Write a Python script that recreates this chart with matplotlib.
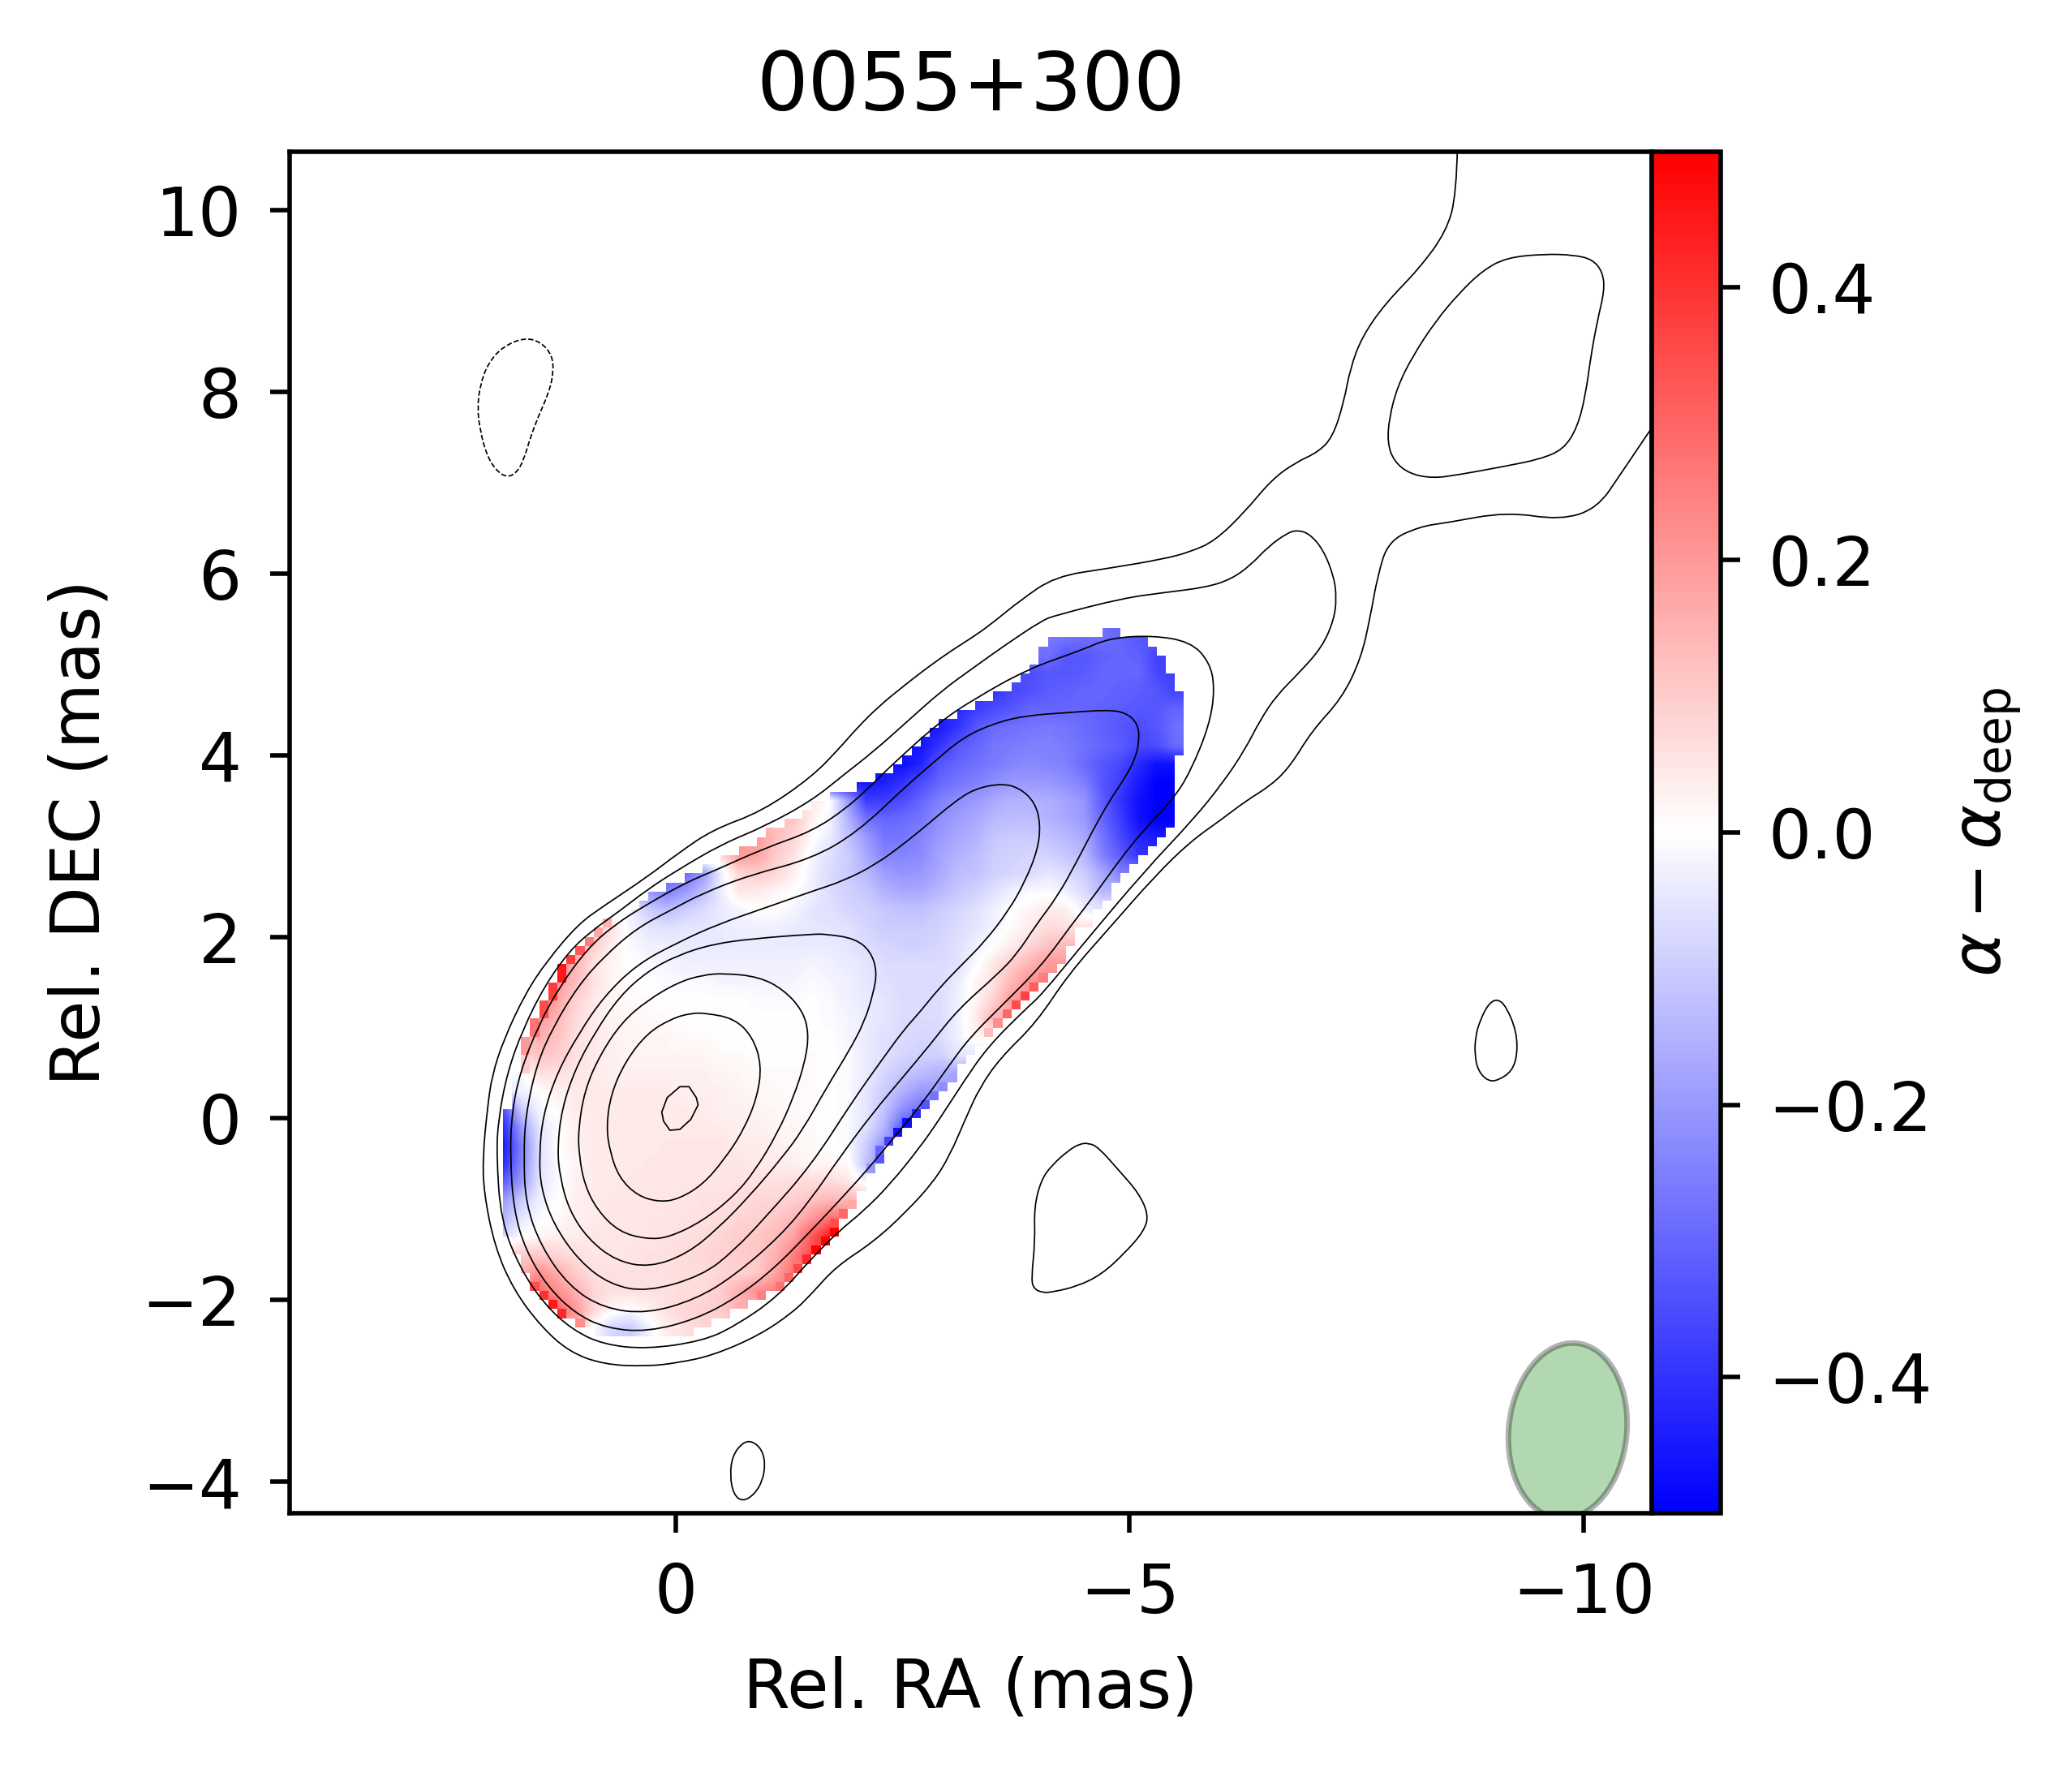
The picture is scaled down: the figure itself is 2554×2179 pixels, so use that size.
import numpy as np
import matplotlib
matplotlib.use("Agg")
import matplotlib.pyplot as plt
from matplotlib.patches import Ellipse, PathPatch
from matplotlib.path import Path

# spectral index map: mask edges per 0.1 mas row, from dec 5.4 downwards (RA in mas)
ROW_LEFT = [-4.7, -4.1, -4.0, -4.0, -3.9, -3.8, -3.7, -3.5, -3.3, -3.1, -2.9, -2.8, -2.7, -2.6, -2.5, -2.4,
            -2.2, -2.0, -1.7, -1.5, -1.4, -1.2, -1.0, -0.9, -0.7, -0.5, -0.3, -0.1, 0.1, 0.3, 0.4, 0.5,
            0.8, 0.9, 1.0, 1.1, 1.2, 1.3, 1.3, 1.4, 1.4, 1.5, 1.5, 1.6, 1.6, 1.7, 1.7, 1.7, 1.7, 1.8,
            1.8, 1.8, 1.8, 1.9, 1.9, 1.9, 1.9, 1.9, 1.9, 1.9, 1.9, 1.9, 1.9, 1.9, 1.9, 1.9, 1.9, 1.8,
            1.8, 1.7, 1.7, 1.6, 1.6, 1.5, 1.4, 1.3, 1.1, 0.9]
ROW_RIGHT = [-4.9, -5.2, -5.3, -5.4, -5.4, -5.5, -5.5, -5.6, -5.6, -5.6, -5.6, -5.6, -5.6, -5.6, -5.5, -5.5,
             -5.5, -5.5, -5.5, -5.5, -5.5, -5.5, -5.4, -5.3, -5.2, -5.1, -5.0, -4.9, -4.8, -4.8, -4.7, -4.6,
             -4.6, -4.4, -4.4, -4.3, -4.3, -4.2, -4.1, -4.0, -3.9, -3.8, -3.7, -3.6, -3.5, -3.4, -3.3, -3.2,
             -3.1, -3.1, -3.0, -2.9, -2.8, -2.7, -2.6, -2.5, -2.4, -2.3, -2.3, -2.2, -2.1, -2.1, -2.0, -2.0,
             -1.9, -1.8, -1.8, -1.7, -1.6, -1.5, -1.4, -1.3, -1.2, -1.0, -0.8, -0.6, -0.4, -0.2]

# values x100 in 0.2 mas cells; VALUE_START is the RA of the first cell centre of each row
VALUE_START = [-4.1, -4.1, -3.9, -3.5, -3.1, -2.9, -2.7, -2.5, -2.1, -1.5, -1.3, -0.9, -0.5, -0.1, 0.3, 0.5,
               0.9, 1.1, 1.3, 1.3, 1.5, 1.5, 1.7, 1.7, 1.7, 1.7, 1.9, 1.9, 1.9, 1.9, 1.9, 1.9,
               1.9, 1.9, 1.7, 1.7, 1.5, 1.3, 1.1]
VALUES = [
    [-26, -27, -28, -28, -30, -33],
    [-28, -33, -33, -31, -30, -31, -37],
    [-35, -33, -33, -32, -30, -30, -30, -36, -38],
    [-40, -36, -34, -32, -31, -30, -30, -31, -32, -33, -37],
    [-42, -38, -35, -33, -30, -30, -30, -30, -31, -32, -33, -33, -30],
    [-45, -40, -33, -29, -28, -27, -26, -27, -29, -31, -33, -35, -33, -28],
    [-46, -40, -33, -30, -27, -26, -25, -25, -26, -28, -30, -32, -36, -35, -29],
    [-47, -43, -33, -30, -28, -26, -24, -23, -24, -25, -29, -33, -36, -42, -47, -47],
    [-46, -44, -40, -35, -30, -27, -25, -22, -20, -20, -20, -22, -25, -33, -38, -45, -50, -50],
    [5, 0, -20, -38, -38, -35, -30, -25, -22, -20, -17, -15, -15, -16, -18, -21, -32, -40, -47, -50, -50],
    [12, 3, -2, -15, -28, -30, -29, -27, -22, -19, -17, -14, -13, -13, -15, -17, -20, -30, -38, -47, -50, -50],
    [20, 13, 8, 1, -4, -12, -20, -27, -27, -24, -20, -17, -15, -11, -10, -10, -12, -14, -17, -27, -36, -43, -45],
    [7, 20, 18, 10, 6, -2, -6, -10, -17, -24, -24, -23, -18, -15, -13, -10, -9, -8, -9, -11, -14, -25, -32, -40],
    [-30, -20, -3, 8, 10, 8, 3, -3, -7, -10, -14, -19, -21, -20, -17, -13, -12, -9, -8, -7, -5, -7, -10, -17, -25],
    [-20, -25, -20, -13, -4, 5, 4, 2, 0, -3, -7, -9, -11, -15, -17, -17, -14, -11, -9, -6, -3, -1, -1, -3, -7, -14],
    [-3, -10, -13, -10, -7, -4, -2, 0, 0, -2, -5, -6, -8, -9, -11, -12, -12, -10, -8, -6, -3, 0, 2, 4, 3, -3, -5],
    [11, 6, -2, -5, -6, -5, -5, -4, -3, -3, -3, -4, -5, -5, -6, -8, -10, -10, -10, -9, -7, -5, -2, 1, 4, 7, 6],
    [18, 10, 3, -1, -3, -3, -4, -4, -4, -4, -4, -4, -4, -4, -4, -5, -7, -8, -9, -9, -8, -6, -3, 0, 4, 8, 12, 14],
    [25, 15, 5, 2, 0, -1, -2, -3, -3, -3, -3, -3, -3, -3, -2, -3, -4, -5, -7, -7, -7, -7, -6, -1, 5, 10, 15, 20],
    [20, 13, 6, 2, 1, 0, -1, -1, -1, -2, -2, -2, -2, -2, -1, -2, -3, -5, -6, -7, -7, -7, -4, 2, 6, 14, 22],
    [30, 18, 9, 4, 2, 1, 1, 0, 0, 0, 0, 0, -1, -1, -1, 0, -1, -3, -4, -5, -7, -7, -7, -3, 2, 9, 20],
    [20, 14, 7, 4, 2, 2, 1, 1, 0, 0, 0, 0, 0, 0, 0, 0, -1, -2, -4, -5, -7, -7, -7, -3, 4, 15],
    [12, 16, 12, 6, 4, 3, 2, 2, 2, 1, 1, 0, 0, 0, 0, 0, 0, 0, -2, -4, -6, -7, -8, -7, -3, 2],
    [8, 12, 10, 6, 4, 3, 2, 2, 2, 2, 2, 1, 1, 0, 0, 0, 1, 0, -1, -4, -6, -8, -9, -9, -5],
    [-1, 6, 6, 5, 4, 3, 3, 3, 3, 3, 3, 2, 2, 1, 1, 1, 1, 0, -1, -4, -8, -11, -13, -15, -18],
    [-3, 0, 3, 4, 4, 4, 4, 4, 4, 3, 3, 3, 2, 2, 1, 1, 1, 0, -1, -5, -10, -15, -20, -20],
    [-35, -10, -2, 1, 4, 4, 4, 4, 4, 4, 4, 4, 3, 3, 2, 2, 1, 1, 0, -1, -5, -12, -22, -28],
    [-42, -20, -5, -1, 3, 4, 4, 4, 4, 4, 4, 4, 4, 3, 3, 2, 2, 1, 0, -1, -6, -15, -33],
    [-45, -25, -6, 0, 3, 4, 4, 4, 4, 5, 5, 5, 5, 4, 4, 3, 2, 1, 0, -1, -10, -22],
    [-42, -24, -6, -1, 2, 4, 4, 4, 5, 5, 5, 5, 5, 5, 4, 4, 3, 2, 2, 1, -12, -25],
    [-32, -20, -5, -1, 3, 4, 4, 5, 5, 5, 5, 5, 5, 6, 6, 6, 7, 7, 7, 5, -2],
    [-20, -10, -3, 0, 3, 4, 5, 5, 5, 5, 5, 6, 6, 7, 8, 8, 9, 12, 14, 14],
    [-15, -5, -1, 1, 3, 4, 5, 5, 5, 5, 6, 6, 7, 8, 9, 11, 14, 20, 28, 25],
    [-8, 0, 2, 3, 4, 5, 5, 5, 5, 6, 6, 7, 8, 10, 11, 13, 18, 33, 45],
    [10, 10, 8, 6, 5, 5, 5, 6, 6, 7, 8, 9, 10, 11, 15, 25, 35],
    [15, 22, 16, 10, 6, 6, 6, 6, 6, 7, 7, 8, 9, 10, 18, 28],
    [28, 22, 15, 8, 6, 6, 6, 6, 7, 7, 10, 15, 22, 25],
    [30, 20, 8, 2, 0, 3, 6, 8, 9, 10, 16],
    [18, -1, -8, -10, -3, 4, 6, 8],
]

# single rim pixels next to the mask edge, given by the top of their row
RIM_LEFT_DEC = [2.2, 2.1, 2.0, 1.9, 1.8, 1.7, 1.6, 1.5, 1.4, 1.3, 1.2, 1.1, 1.0, 0.9, 0.8, 0.7, 0.6,
                -1.8, -1.9, -2.0, -2.1, -2.2]
RIM_LEFT_VAL = [15, 17, 25, 33, 38, 45, 45, 38, 38, 35, 35, 27, 27, 20, 20, 10, 10,
                35, 40, 45, 42, 22]
RIM_RIGHT_DEC = [1.6, 1.5, 1.4, 1.3, 1.2, 1.1, 1.0, 0.4, 0.3, 0.2, 0.1, 0.0, -0.1, -0.2, -0.3, -0.4, -0.5,
                 -0.9, -1.0, -1.1, -1.2, -1.3, -1.4, -1.5, -1.6, -1.7, -1.8, -1.9]
RIM_RIGHT_VAL = [25, 32, 37, 35, 30, 22, 13, -22, -27, -33, -42, -47, -47, -37, -30, -33, -20,
                 17, 30, 35, 50, 50, 50, 42, 36, 30, 28, 25]

C1 = [(-8.61, 10.7), (-8.60, 10.18), (-8.49, 9.77), (-8.19, 9.36), (-7.82, 8.98), (-7.56, 8.61), (-7.43, 8.26),
      (-7.36, 7.89), (-7.24, 7.51), (-7.08, 7.34), (-6.82, 7.22), (-6.56, 7.03), (-6.27, 6.68), (-5.94, 6.36),
      (-5.67, 6.24), (-5.37, 6.16), (-4.78, 6.06), (-4.18, 5.97), (-3.79, 5.70), (-3.52, 5.48), (-3.32, 5.33),
      (-3.05, 5.16), (-2.78, 4.97), (-2.51, 4.76), (-2.24, 4.54), (-2.00, 4.30), (-1.80, 4.07), (-1.50, 3.76),
      (-0.95, 3.38), (-0.41, 3.18), (-0.03, 2.92), (0.31, 2.66), (0.79, 2.34), (1.07, 2.14), (1.41, 1.74),
      (1.65, 1.38), (1.89, 0.87), (2.02, 0.47), (2.07, 0.11), (2.12, -0.41), (2.11, -0.81), (1.99, -1.41),
      (1.78, -1.89), (1.48, -2.29), (1.17, -2.57), (0.79, -2.71), (0.31, -2.73), (-0.03, -2.69), (-0.41, -2.61),
      (-0.92, -2.39), (-1.30, -2.13), (-1.50, -1.93), (-1.77, -1.63), (-2.18, -1.36), (-2.54, -1.03),
      (-2.84, -0.70), (-3.02, -0.41), (-3.20, 0.01), (-3.35, 0.34), (-3.58, 0.67), (-3.97, 1.05), (-4.33, 1.59),
      (-4.78, 2.10), (-5.28, 2.67), (-5.67, 3.05), (-6.01, 3.29), (-6.27, 3.49), (-6.56, 3.67), (-6.77, 3.88),
      (-7.01, 4.27), (-7.34, 4.63), (-7.55, 5.07), (-7.65, 5.52), (-7.73, 5.97), (-7.85, 6.36), (-8.20, 6.52),
      (-8.49, 6.56), (-9.15, 6.68), (-9.75, 6.59), (-10.15, 6.72), (-10.41, 7.10), (-10.8, 7.68)]
C2 = [(-6.85, 6.48), (-6.98, 6.44), (-7.13, 6.27), (-7.25, 5.97), (-7.28, 5.73), (-7.25, 5.49), (-7.12, 5.19),
      (-6.86, 4.90), (-6.62, 4.66), (-6.44, 4.39), (-6.27, 4.06), (-6.03, 3.70), (-5.70, 3.29), (-5.17, 2.73),
      (-4.48, 1.91), (-4.03, 1.36), (-3.85, 1.20), (-3.44, 0.79), (-3.17, 0.40), (-2.90, -0.02), (-2.69, -0.32),
      (-2.36, -0.73), (-2.06, -1.03), (-1.80, -1.24), (-1.50, -1.54), (-1.12, -1.97), (-0.65, -2.29),
      (-0.30, -2.45), (0.31, -2.54), (0.79, -2.49), (1.13, -2.33), (1.44, -2.05), (1.71, -1.65), (1.92, -1.13),
      (1.97, -0.41), (1.95, -0.01), (1.85, 0.51), (1.68, 0.98), (1.44, 1.46), (1.17, 1.84), (0.93, 2.06),
      (0.62, 2.28), (0.31, 2.52), (-0.03, 2.74), (-0.51, 3.02), (-0.99, 3.22), (-1.50, 3.50), (-1.86, 3.79),
      (-2.18, 4.04), (-2.54, 4.36), (-2.93, 4.71), (-3.29, 4.97), (-3.64, 5.22), (-4.03, 5.48), (-4.18, 5.54),
      (-4.93, 5.73), (-5.37, 5.79), (-5.85, 5.85), (-6.12, 5.94), (-6.33, 6.09), (-6.53, 6.30), (-6.74, 6.45)]
C3 = [(-1.50, -1.23), (-1.09, -1.65), (-0.68, -1.97), (-0.23, -2.21), (0.31, -2.35), (0.76, -2.31), (1.10, -2.15),
      (1.41, -1.85), (1.65, -1.45), (1.78, -1.01), (1.82, -0.41), (1.80, 0.07), (1.71, 0.51), (1.51, 1.02),
      (1.27, 1.46), (0.96, 1.88), (0.66, 2.14), (0.31, 2.36), (-0.12, 2.60), (-0.41, 2.72), (-0.99, 2.98),
      (-1.50, 3.16), (-1.89, 3.42), (-2.20, 3.71), (-2.39, 3.90), (-2.90, 4.36), (-3.29, 4.62), (-3.88, 4.95),
      (-4.48, 5.16), (-4.78, 5.29), (-5.25, 5.32), (-5.67, 5.25), (-5.88, 5.03), (-5.94, 4.74), (-5.88, 4.33),
      (-5.67, 3.82), (-5.49, 3.53), (-5.16, 3.18), (-4.90, 2.86), (-4.63, 2.48), (-4.36, 2.13), (-4.03, 1.68),
      (-3.58, 1.23), (-3.23, 0.88), (-2.99, 0.55), (-2.69, 0.13), (-2.39, -0.23), (-2.10, -0.58), (-1.80, -0.91)]
C4 = [(-1.50, -0.88), (-1.16, -1.29), (-0.65, -1.73), (-0.23, -1.99), (0.31, -2.15), (0.79, -2.09), (1.17, -1.85),
      (1.48, -1.41), (1.65, -0.93), (1.67, -0.41), (1.65, 0.03), (1.53, 0.59), (1.34, 1.02), (1.07, 1.46),
      (0.79, 1.78), (0.42, 2.10), (0.04, 2.30), (-0.30, 2.48), (-0.82, 2.68), (-1.50, 2.86), (-2.00, 3.15),
      (-2.54, 3.66), (-2.84, 3.92), (-3.17, 4.20), (-3.53, 4.36), (-3.88, 4.44), (-4.33, 4.47), (-4.75, 4.50),
      (-4.96, 4.47), (-5.09, 4.35), (-5.11, 4.17), (-5.06, 3.95), (-4.93, 3.72), (-4.78, 3.50), (-4.60, 3.18),
      (-4.42, 2.83), (-4.21, 2.45), (-3.97, 2.13), (-3.76, 1.81), (-3.55, 1.59), (-3.11, 1.20), (-2.81, 0.82),
      (-2.51, 0.46), (-2.18, 0.07), (-1.80, -0.44)]
C5 = [(-1.50, 2.50), (-1.86, 2.62), (-2.21, 2.80), (-2.51, 3.02), (-2.78, 3.24), (-3.05, 3.47), (-3.29, 3.63),
      (-3.59, 3.69), (-3.79, 3.64), (-3.96, 3.48), (-4.02, 3.24), (-3.99, 2.96), (-3.85, 2.61), (-3.67, 2.29),
      (-3.40, 1.94), (-3.14, 1.68), (-2.90, 1.43), (-2.69, 1.17), (-2.51, 0.97), (-2.27, 0.64), (-1.95, 0.19),
      (-1.50, -0.51), (-0.99, -1.09), (-0.65, -1.45), (-0.30, -1.73), (0.31, -1.91), (0.72, -1.83), (1.06, -1.57),
      (1.34, -1.17), (1.48, -0.77), (1.50, -0.41), (1.46, 0.03), (1.30, 0.51), (1.06, 0.94), (0.79, 1.34),
      (0.42, 1.70), (-0.03, 1.94), (-0.47, 2.14), (-0.99, 2.32)]
C6 = [(-1.50, 2.03), (-1.67, 2.03), (-1.98, 1.98), (-2.15, 1.84), (-2.22, 1.62), (-2.18, 1.38), (-2.08, 1.06),
      (-1.91, 0.74), (-1.67, 0.35), (-1.40, -0.13), (-1.16, -0.45), (-0.82, -0.85), (-0.47, -1.21), (-0.13, -1.49),
      (0.28, -1.64), (0.65, -1.57), (0.96, -1.33), (1.17, -1.01), (1.27, -0.65), (1.30, -0.33), (1.25, 0.11),
      (1.10, 0.55), (0.89, 0.94), (0.62, 1.34), (0.31, 1.62), (-0.03, 1.80), (-0.41, 1.92), (-0.85, 1.98)]
C7 = [(-0.54, 1.60), (-0.92, 1.56), (-1.19, 1.42), (-1.40, 1.19), (-1.47, 0.94), (-1.43, 0.63), (-1.30, 0.23),
      (-1.12, -0.17), (-0.88, -0.57), (-0.65, -0.85), (-0.30, -1.13), (0.07, -1.31), (0.31, -1.33), (0.62, -1.25),
      (0.86, -1.01), (1.00, -0.73), (1.06, -0.41), (1.07, -0.13), (1.00, 0.31), (0.83, 0.70), (0.59, 1.06),
      (0.31, 1.30), (-0.03, 1.50), (-0.30, 1.58)]
C8 = [(-0.34, 1.16), (-0.65, 1.10), (-0.85, 0.90), (-0.95, 0.59), (-0.90, 0.23), (-0.75, -0.13), (-0.54, -0.45),
      (-0.30, -0.73), (-0.03, -0.89), (0.18, -0.92), (0.42, -0.85), (0.62, -0.65), (0.72, -0.37), (0.76, -0.09),
      (0.71, 0.27), (0.55, 0.63), (0.31, 0.94), (0.04, 1.10), (-0.17, 1.16)]
C9 = [(-0.05, 0.35), (-0.15, 0.35), (-0.23, 0.23), (-0.25, 0.15), (-0.17, -0.01), (-0.05, -0.12), (0.06, -0.13),
      (0.13, -0.03), (0.15, 0.07), (0.09, 0.23)]
LOBE = [(-9.56, 9.52), (-9.89, 9.51), (-10.10, 9.46), (-10.21, 9.32), (-10.23, 9.12), (-10.15, 8.78), (-10.08, 8.40),
        (-10.02, 7.96), (-9.93, 7.61), (-9.78, 7.37), (-9.52, 7.26), (-9.12, 7.18), (-8.63, 7.09), (-8.34, 7.05),
        (-8.08, 7.10), (-7.91, 7.24), (-7.84, 7.44), (-7.86, 7.72), (-7.95, 8.06), (-8.12, 8.40), (-8.37, 8.78),
        (-8.63, 9.09), (-8.89, 9.34), (-9.15, 9.48)]
BLOB_A = [(-4.45, -0.28), (-4.55, -0.27), (-4.66, -0.32), (-4.89, -0.58), (-5.10, -0.82), (-5.21, -1.06), (-5.16, -1.24),
          (-4.95, -1.48), (-4.69, -1.72), (-4.42, -1.85), (-4.16, -1.91), (-4.04, -1.92), (-3.94, -1.87), (-3.92, -1.75),
          (-3.96, -1.36), (-3.95, -0.97), (-4.03, -0.67), (-4.15, -0.51), (-4.33, -0.35)]
BLOB_B = [(-9.05, 1.32), (-9.15, 1.23), (-9.26, 0.96), (-9.27, 0.70), (-9.21, 0.52), (-9.06, 0.42), (-8.95, 0.41),
          (-8.84, 0.52), (-8.80, 0.70), (-8.81, 0.91), (-8.86, 1.08), (-8.95, 1.26)]
BLOB_C = [(-0.84, -3.55), (-0.95, -3.64), (-0.99, -3.80), (-0.96, -3.99), (-0.87, -4.14), (-0.74, -4.22), (-0.64, -4.14),
          (-0.60, -3.93), (-0.63, -3.71), (-0.74, -3.57)]
NEGATIVE = [(1.66, 8.60), (1.48, 8.55), (1.36, 8.41), (1.34, 8.23), (1.39, 8.00), (1.51, 7.73), (1.60, 7.49),
            (1.67, 7.25), (1.75, 7.11), (1.85, 7.06), (1.97, 7.13), (2.08, 7.31), (2.15, 7.58), (2.18, 7.82),
            (2.15, 8.08), (2.06, 8.32), (1.90, 8.50)]

X_TICKS = [0, -5, -10]
Y_TICKS = [-4, -2, 0, 2, 4, 6, 8, 10]
CBAR_TICKS = [-0.4, -0.2, 0.0, 0.2, 0.4]

plt.rcParams["font.size"] = 12
plt.rcParams["xtick.major.pad"] = 5
plt.rcParams["ytick.major.pad"] = 5
plt.rcParams["axes.labelpad"] = 5


def smooth_path(points, closed=True):
    # quadratic spline through the midpoints, the read points are the control points
    pts = np.array(points)
    if closed:
        verts = [(pts[-1] + pts[0]) / 2]
        codes = [Path.MOVETO]
        for i in range(len(pts)):
            verts += [pts[i], (pts[i] + pts[(i + 1) % len(pts)]) / 2]
            codes += [Path.CURVE3, Path.CURVE3]
    else:
        verts = [pts[0]]
        codes = [Path.MOVETO]
        for i in range(1, len(pts) - 1):
            end = (pts[i] + pts[i + 1]) / 2 if i < len(pts) - 2 else pts[-1]
            verts += [pts[i], end]
            codes += [Path.CURVE3, Path.CURVE3]
    return Path(np.array(verts), codes)


def coarse_map():
    # whole 0.2 mas table, edge cells repeated so the image can be cut by the mask
    grid = np.zeros((len(VALUES), 38))
    for i, row in enumerate(VALUES):
        for j in range(38):
            ra = 1.9 - 0.2 * j
            k = int(round((VALUE_START[i] - ra) / 0.2))
            grid[i, j] = row[min(max(k, 0), len(row) - 1)] / 100.0
    return grid


def mask_outline():
    left = []
    right = []
    for i in range(len(ROW_LEFT)):
        top = 5.4 - 0.1 * i
        left += [(ROW_LEFT[i], top), (ROW_LEFT[i], top - 0.1)]
        right += [(ROW_RIGHT[i], top), (ROW_RIGHT[i], top - 0.1)]
    return Path(np.array(left + right[::-1] + left[:1]), closed=True)


def rim_pixels():
    ra_edges = np.round(np.arange(2.0, -5.61, -0.1), 1)
    dec_edges = np.round(np.arange(5.4, -2.41, -0.1), 1)
    z = np.full((len(dec_edges) - 1, len(ra_edges) - 1), np.nan)
    for dec, val in zip(RIM_LEFT_DEC, RIM_LEFT_VAL):
        i = int(round((5.4 - dec) * 10))
        z[i, int(round((2.0 - ROW_LEFT[i]) * 10))] = val / 100.0
    for dec, val in zip(RIM_RIGHT_DEC, RIM_RIGHT_VAL):
        i = int(round((5.4 - dec) * 10))
        z[i, int(round((2.0 - ROW_RIGHT[i]) * 10)) - 1] = val / 100.0
    return ra_edges, dec_edges, np.ma.masked_invalid(z)


fig = plt.figure(figsize=(2554 / 500, 2179 / 500), dpi=500)
ax = fig.add_axes([356.7 / 2554, 1 - 1865.3 / 2179, 1679.3 / 2554, 1678.7 / 2179])
cax = fig.add_axes([2036.0 / 2554, 1 - 1865.3 / 2179, 84.5 / 2554, 1678.7 / 2179])

im = ax.imshow(coarse_map(), extent=(2.0, -5.6, -2.4, 5.4), origin="upper", aspect="auto", cmap="bwr",
               vmin=-0.5, vmax=0.5, interpolation="bilinear", interpolation_stage="data")
im.set_clip_path(mask_outline(), transform=ax.transData)

ra_edges, dec_edges, rim = rim_pixels()
ax.pcolormesh(ra_edges, dec_edges, rim, cmap="bwr", vmin=-0.5, vmax=0.5)

for line in [C2, C3, C4, C5, C6, C7, C8, LOBE, BLOB_A, BLOB_B, BLOB_C]:
    ax.add_patch(PathPatch(smooth_path(line), fill=False, edgecolor="black", lw=0.25))
ax.add_patch(PathPatch(smooth_path(C1, closed=False), fill=False, edgecolor="black", lw=0.25))
ax.add_patch(plt.Polygon(C9, closed=True, fill=False, edgecolor="black", lw=0.25))
ax.add_patch(PathPatch(smooth_path(NEGATIVE), fill=False, edgecolor="black", lw=0.25, linestyle="--"))

# restoring beam
ax.add_patch(Ellipse((-9.825, -3.44), 1.30, 1.94, angle=6, facecolor="green", edgecolor="black", lw=1, alpha=0.3))

ax.set_xlim(4.25, -10.75)
ax.set_ylim(-4.35, 10.65)
ax.set_xticks(X_TICKS)
ax.set_yticks(Y_TICKS)
ax.set_xlabel("Rel. RA (mas)")
ax.set_ylabel("Rel. DEC (mas)")
ax.set_title("0055+300", fontsize=14.4, pad=7.3)

cb = fig.colorbar(im, cax=cax)
cb.set_ticks(CBAR_TICKS)
cb.set_label(r"$\alpha - \alpha_{\mathrm{deep}}$", labelpad=4.5)

fig.savefig("out.png", dpi=500)
